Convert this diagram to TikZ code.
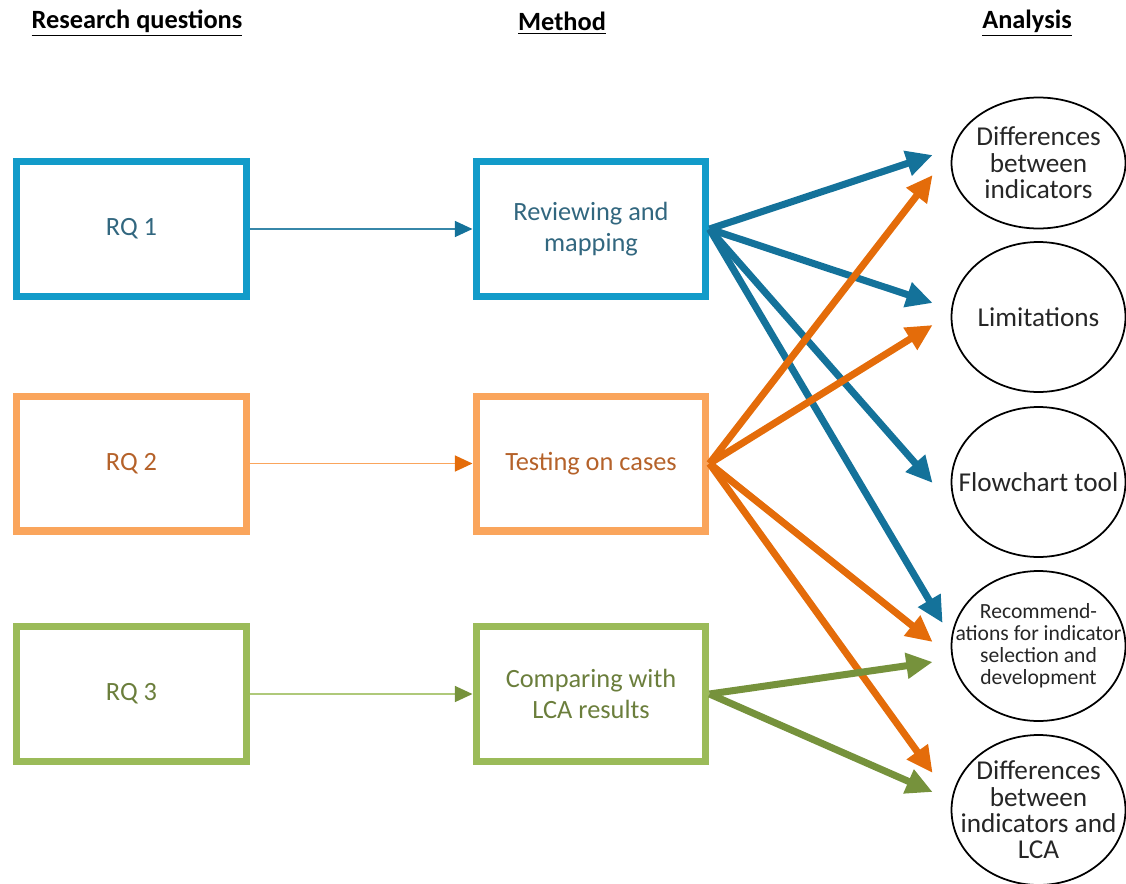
\documentclass[tikz,border=0pt]{standalone}
\usepackage{fontspec}
\setmainfont{Carlito}
\usepackage{tikz}
\usetikzlibrary{arrows.meta, positioning, shapes.geometric, calc}

\definecolor{rqblue}{HTML}{129BC9}
\definecolor{rqorange}{HTML}{FAA55C}
\definecolor{rqgreen}{HTML}{9BBB59}
\definecolor{arblue}{HTML}{14729A}
\definecolor{arorange}{HTML}{E46C0A}
\definecolor{argreen}{HTML}{76923C}
\definecolor{txblue}{HTML}{32677F}
\definecolor{txorange}{HTML}{B5622A}
\definecolor{txgreen}{HTML}{6B7E3C}
\definecolor{txgray}{HTML}{262626}

\begin{document}
\begin{tikzpicture}[x=0.02cm, y=-0.02cm,
    box/.style={draw, line width=4pt, minimum width=4.6cm, minimum height=2.7cm,
                align=center, font=\fontsize{15}{18}\selectfont},
    ana/.style={draw, ellipse, line width=1pt, minimum width=3.48cm, minimum height=3cm, inner sep=0pt},
    anatxt/.style={align=center, text=txgray, font=\fontsize{15.5}{15}\selectfont},
    head/.style={font=\fontsize{15}{18}\selectfont\bfseries, text=black},
    thin/.style={line width=1.1pt},
    fat/.style={line width=4pt, -{Triangle[length=15pt, width=14pt]}}]
    \useasboundingbox (0,0) rectangle (1126,883);

    % Column headings
    \node[head] (hrq) at (137,23) {\underline{Research questions}};
    \node[head] (hme) at (562,23) {\underline{Method}};
    \node[head] (han) at (1027,23) {\underline{Analysis}};

    % Research questions
    \node[box, rqblue, text=txblue] (rq1) at (131.5,229) {RQ 1};
    \node[box, rqorange, text=txorange] (rq2) at (131.5,463.5) {RQ 2};
    \node[box, rqgreen, text=txgreen] (rq3) at (131.5,694) {RQ 3};

    % Methods
    \node[box, rqblue, text=txblue] (rev) at (591,229) {Reviewing and\\mapping};
    \node[box, rqorange, text=txorange] (test) at (591,463.5) {Testing on cases};
    \node[box, rqgreen, text=txgreen] (comp) at (591,694) {Comparing with\\LCA results};

    % Analysis
    \node[ana, minimum height=2.62cm, label={[anatxt]center:{Differences\\between\\indicators}}] (diff) at (1038.5,163) {};
    \node[ana, label={[anatxt]center:{Limitations}}] (lim) at (1038.5,317) {};
    \node[ana, label={[anatxt]center:{Flowchart tool}}] (flow) at (1038.5,482) {};
    \node[ana, label={[anatxt, font=\fontsize{12.3}{12.5}\selectfont]center:{Recommend-\\ations for indicator\\selection and\\development}}] (rec) at (1038.5,646) {};
    \node[ana, label={[anatxt]center:{Differences\\between\\indicators and\\LCA}}] (difflca) at (1038.5,810) {};

    % Questions to methods
    \draw[thin, arblue!85!white, -{Triangle[length=10pt, width=9pt, color=arblue]}] (rq1) -- (rev);
    \draw[thin, rqorange, -{Triangle[length=10pt, width=9pt, color=arorange]}] (rq2) -- (test);
    \draw[thin, rqgreen!80!white, -{Triangle[length=10pt, width=9pt, color=argreen]}] (rq3) -- (comp);

    % Reviewing and mapping
    \draw[fat, arblue] (rev.east) -- ($(diff.west)+(-18,-8)$);
    \draw[fat, arblue] (rev.east) -- ($(lim.west)+(-18,-14)$);
    \draw[fat, arblue] (rev.east) -- ($(flow.west)+(-18,1)$);
    \draw[fat, arblue] (rev.east) -- ($(rec.west)+(-8,-23)$);

    % Testing on cases
    \draw[fat, arorange] (test.east) -- ($(diff.west)+(-18,12)$);
    \draw[fat, arorange] (test.east) -- ($(lim.west)+(-18,8)$);
    \draw[fat, arorange] (test.east) -- ($(rec.west)+(-18,-4)$);
    \draw[fat, arorange] (test.east) -- ($(difflca.west)+(-18,-37)$);

    % Comparing with LCA results
    \draw[fat, argreen] (comp.east) -- ($(rec.west)+(-18,16)$);
    \draw[fat, argreen] (comp.east) -- ($(difflca.west)+(-18,-18)$);
\end{tikzpicture}
\end{document}
